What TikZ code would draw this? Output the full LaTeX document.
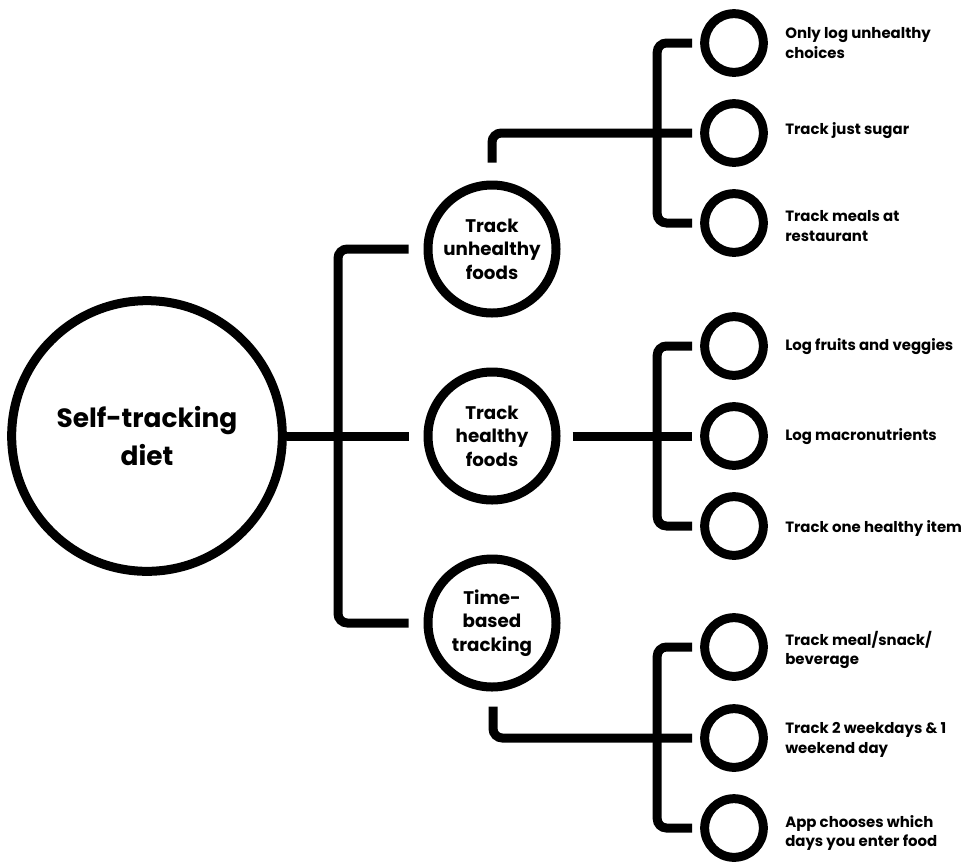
\documentclass[tikz,border=0pt]{standalone}
\usepackage{fontspec}
\setmainfont{Poppins}
\usetikzlibrary{calc}
\tikzset{
  ring/.style={circle, draw=black, line width=6.75pt, fill=white, inner sep=0pt, align=center, font=\bfseries},
  bigring/.style={ring, minimum size=203pt, font=\bfseries\fontsize{19.8}{28}\selectfont},
  midring/.style={ring, minimum size=96pt, font=\bfseries\fontsize{13.7}{17.5}\selectfont},
  leafring/.style={ring, minimum size=44pt},
  leaflabel/.style={anchor=west, align=left, inner sep=0pt, font=\bfseries\fontsize{11.2}{14.5}\selectfont},
  conn/.style={draw=black, line width=6.75pt, rounded corners=7pt}
}
\begin{document}
\begin{tikzpicture}[x=0.75pt,y=-0.75pt]
\useasboundingbox (0,0) rectangle (974,861);
% main nodes
\node[bigring] (root) at (147,436) {Self-tracking\\diet};
\node[midring] (u) at (492,249) {Track\\unhealthy\\foods};
\node[midring] (h) at (492,436) {Track\\healthy\\foods};
\node[midring] (t) at (492,623) {Time-\\based\\tracking};
% leaves
\node[leafring] (u1) at (734,43) {};
\node[leafring] (u2) at (734,133) {};
\node[leafring] (u3) at (734,223) {};
\node[leafring] (h1) at (734,346) {};
\node[leafring] (h2) at (734,436) {};
\node[leafring] (h3) at (734,526) {};
\node[leafring] (t1) at (734,647) {};
\node[leafring] (t2) at (734,738) {};
\node[leafring] (t3) at (734,828) {};
% labels
\node[leaflabel] (lu1) at (785,43) {Only log unhealthy\\choices};
\node[leaflabel] (lu2) at (785,131) {Track just sugar};
\node[leaflabel] (lu3) at (785,226) {Track meals at\\restaurant};
\node[leaflabel] (lh1) at (785,347) {Log fruits and veggies};
\node[leaflabel] (lh2) at (785,437) {Log macronutrients};
\node[leaflabel] (lh3) at (785,528) {Track one healthy item};
\node[leaflabel] (lt1) at (785,650) {Track meal/snack/\\beverage};
\node[leaflabel] (lt2) at (785,740) {Track 2 weekdays \& 1\\weekend day};
\node[leaflabel] (lt3) at (785,833) {App chooses which\\days you enter food};
% connector end coordinates
\coordinate (uin) at ($(u.west)+(-15,0)$);
\coordinate (hin) at ($(h.west)+(-15,0)$);
\coordinate (tin) at ($(t.west)+(-15,0)$);
\coordinate (ubar) at (338,436);
\coordinate (uout) at ($(u.north)+(0,-18)$);
\coordinate (hout) at ($(h.east)+(12,0)$);
\coordinate (tout) at ($(t.south)+(1,15)$);
\foreach \n in {u1,u2,u3,h1,h2,h3,t1,t2,t3}{
  \coordinate (\n in) at ($(\n.west)+(-8,0)$);
}
% level 1
\draw[conn] (root.east) -- (hin);
\draw[conn] (uin) -| (ubar) |- (tin);
% unhealthy group
\draw[conn] (uout) |- (u2in);
\draw[conn] (u1in) -| ($(u3in)+(-35,0)$) -- (u3in);
% healthy group
\draw[conn] (hout) -- (h2in);
\draw[conn] (h1in) -| ($(h3in)+(-35,0)$) -- (h3in);
% time group
\draw[conn] (tout) |- (t2in);
\draw[conn] (t1in) -| ($(t3in)+(-35,0)$) -- (t3in);
\end{tikzpicture}
\end{document}
